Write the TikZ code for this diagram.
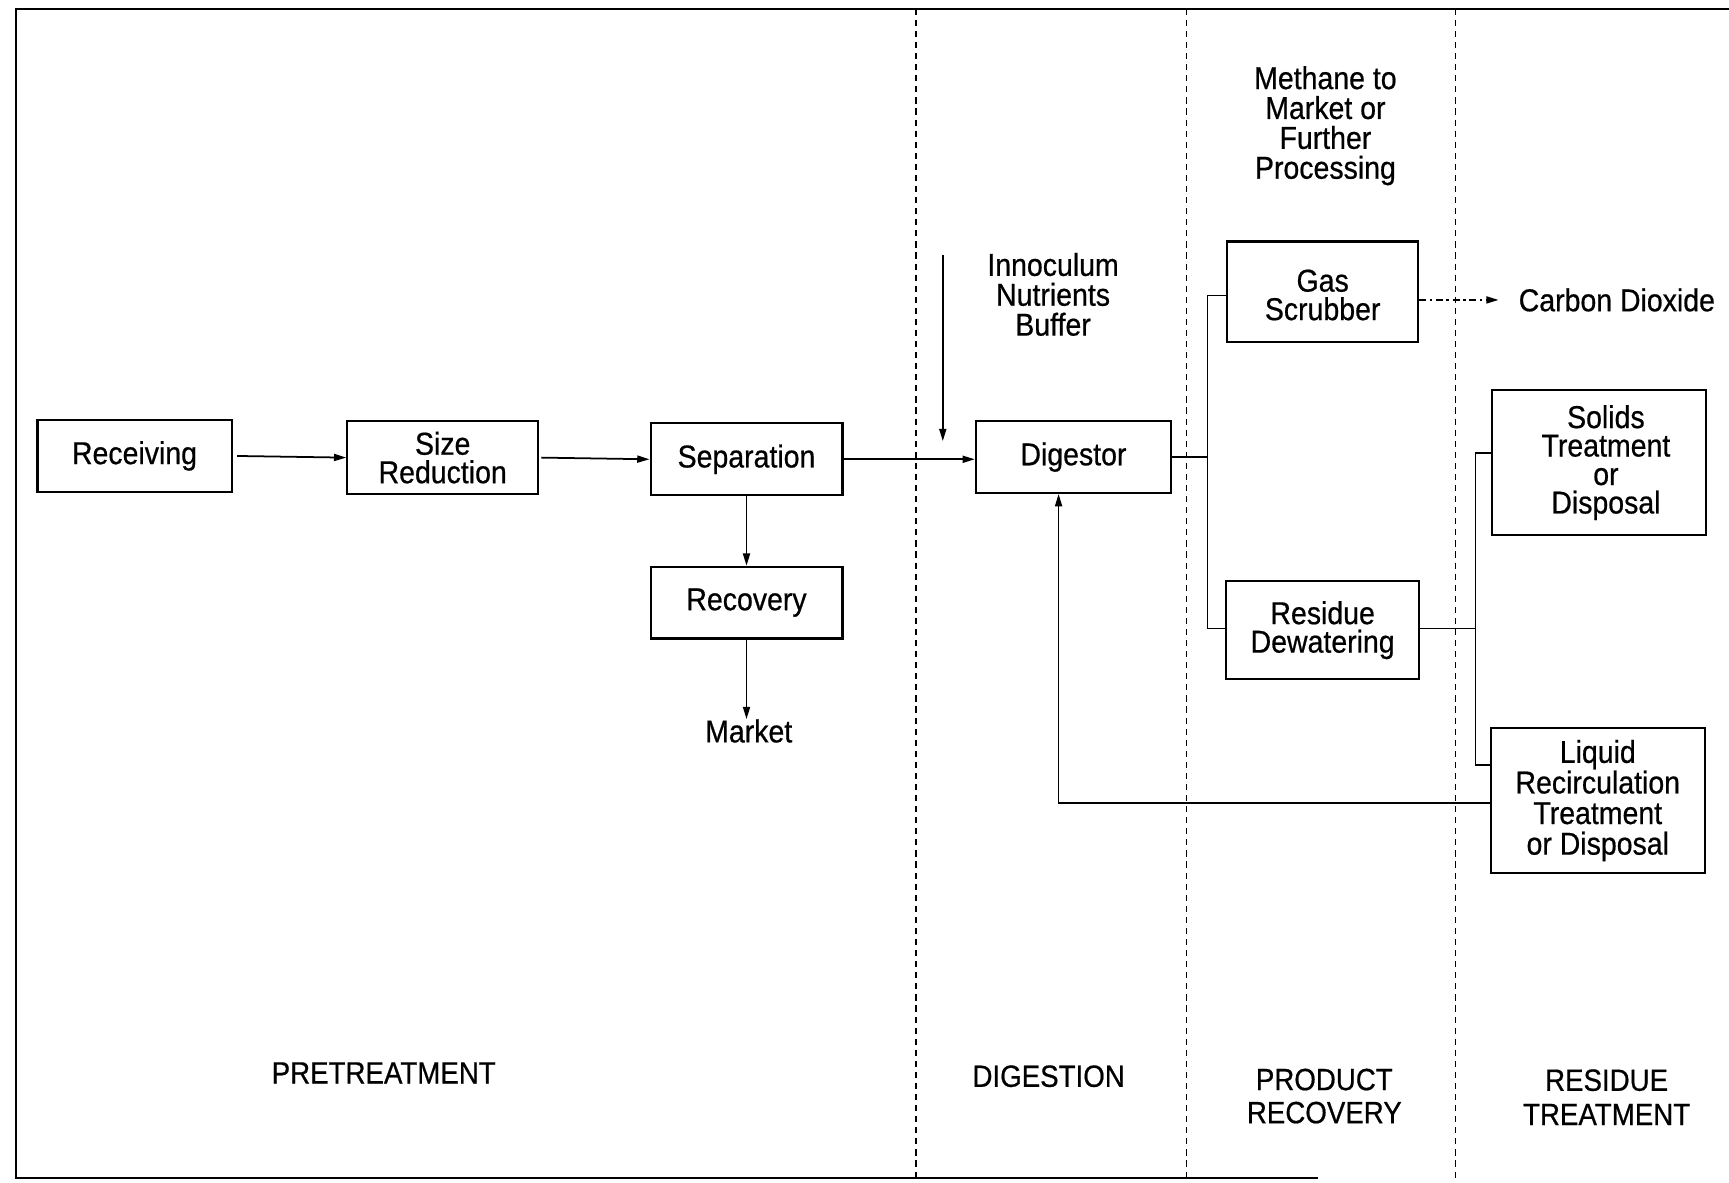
\documentclass[tikz,border=0pt]{standalone}
\usepackage{fontspec}
\setmainfont{Liberation Sans}[FakeStretch=0.9,FakeBold=0.6]
\usetikzlibrary{arrows.meta,calc}
\newcommand\upx{0.022054cm}
\begin{document}
\begin{tikzpicture}[x=0.022054cm,y=-0.022054cm,
  every node/.style={inner sep=0pt, align=center, font=\fontsize{18}{17}\selectfont},
  box/.style 2 args={draw, line width=1.2pt, minimum width=#1*\upx, minimum height=#2*\upx},
  conn/.style={line width=1pt},
  arr/.style={conn, -{Triangle[length=7pt,width=4pt]}},
  vent/.style={arr, dash pattern=on 4pt off 2pt on 1.5pt off 2pt},
  zone/.style={line width=1pt, dash pattern=on 3.5pt off 2.8pt},
  frame/.style={line width=1.3pt},
  lbl/.style={font=\fontsize{17.5}{#1}\selectfont},
]
\useasboundingbox (0,0) rectangle (1568,1072);

% outer frame and zone separators
\draw[frame] (1568,8) -- (14.5,8) -- (14.5,1068) -- (1195,1068);
\foreach \zx in {831,1076,1320}
  \draw[zone] (\zx,8) -- (\zx,1068);

% process units
\node[box={176}{65}] (rec)    at (122,413.5)   {Receiving};
\node[box={173}{66}, font=\fontsize{18}{16.2}\selectfont] (size) at (401.5,415) {Size\\Reduction};
\node[box={174}{65}] (sep)    at (677,416.5)   {Separation};
\node[box={174}{65}] (recov)  at (677,546.5)   {Recovery};
\node[box={177}{65}] (dig)    at (973.5,414.5) {Digestor};
\node[box={173}{91}] (gas) at (1199.5,264.5) {};
\node[font=\fontsize{18}{16.2}\selectfont] (gastxt) at ($(gas)+(0,3)$) {Gas\\Scrubber};
\node[box={175}{89}, font=\fontsize{18}{16.2}\selectfont] (resid) at (1199.5,571.5) {Residue\\Dewatering};
\node[box={194}{131}, font=\fontsize{18}{16.2}\selectfont] (solids) at (1450,419.5) {\hspace*{8pt}Solids\\\hspace*{8pt}Treatment\\\hspace*{8pt}or\\\hspace*{8pt}Disposal};
\node[box={194}{132}, font=\fontsize{18}{17.4}\selectfont] (liquid) at (1449,726) {Liquid\\Recirculation\\Treatment\\or Disposal};

% free texts
\node (market) at (679,663) {Market};
\node (inn) at (955,267) {Innoculum\\Nutrients\\Buffer};
\node (methane) at (1202,114) {Methane to\\Market or\\Further\\Processing};
\node[anchor=west] (co2) at (1377,272) {Carbon Dioxide};

% zone titles
\node[lbl=17] (z1) at (348,973) {PRETREATMENT};
\node[lbl=17] (z2) at (951,976) {DIGESTION};
\node[lbl=18.8] (z3) at (1201,994) {PRODUCT\\RECOVERY};
\node[lbl=19.5] (z4) at (1457,995) {RESIDUE\\TREATMENT};

% main line
\draw[arr] ($(rec.east)+(4,0)$ |- size.west) -- (size.west);
\draw[arr] ($(size.east)+(2,0)$ |- sep.west) -- (sep.west);
\draw[arr] (sep.east) -- (sep.east -| dig.west);
\draw[arr] (sep.south) -- (recov.north);
\draw[arr] (recov.south) -- (recov.south |- market.north);

% additives into the digestor
\coordinate (addtop) at (855,231);
\coordinate (addend) at (855,400);
\draw[arr] (addtop) -- (addend);

% digestor outputs
\coordinate (gtop) at (1095,268);
\coordinate (gbot) at (1095,570);
\draw[conn] (dig.east) -- (dig.east -| gtop);
\draw[conn] (gas.west |- gtop) -- (gtop) -- (gbot) -- (resid.west |- gbot);
\draw[vent] (gas.east |- co2.west) -- ($(co2.west)+(-18,0)$);

% residue split
\coordinate (rj) at (1338,570);
\coordinate (stop) at (1338,410.6);
\coordinate (sbot) at (1338,694);
\draw[conn] (resid.east |- rj) -- (rj);
\draw[conn] (solids.west |- stop) -- (stop) -- (sbot) -- (liquid.west |- sbot);

% liquid recirculation back to the digestor
\coordinate (lc) at (960,728);
\draw[arr] (liquid.west |- lc) -- (lc) -- (dig.south -| lc);
\end{tikzpicture}
\end{document}
